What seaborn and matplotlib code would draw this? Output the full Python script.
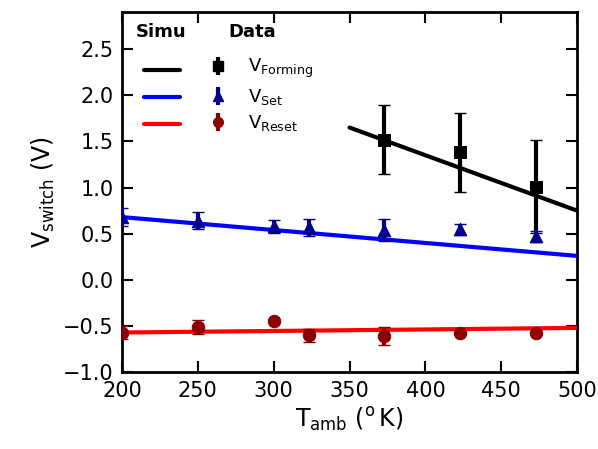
import numpy as np
import pandas as pd
import matplotlib
matplotlib.use("Agg")
import matplotlib.pyplot as plt
import seaborn as sns
from matplotlib.lines import Line2D

sns.set_style("ticks")
plt.rcParams['font.family'] = ['DejaVu Sans']
plt.rcParams['mathtext.default'] = 'regular'
for k in ['text.color', 'axes.labelcolor', 'xtick.color', 'ytick.color', 'axes.edgecolor']:
    plt.rcParams[k] = 'black'

# Simulation lines
simu_form_T = [350, 500]
simu_form_V = [1.65, 0.75]
simu_set_T = [200, 500]
simu_set_V = [0.68, 0.26]
simu_reset_T = [200, 500]
simu_reset_V = [-0.57, -0.52]

# Measured data
form_T = [373, 423, 473]
form_V = [1.52, 1.38, 1.01]
form_err = [0.37, 0.43, 0.50]

set_T = [200, 250, 300, 323, 373, 423, 473]
set_V = [0.68, 0.64, 0.58, 0.57, 0.54, 0.55, 0.47]
set_err = [0.10, 0.09, 0.07, 0.09, 0.12, 0.06, 0.06]

reset_T = [200, 250, 300, 323, 373, 423, 473]
reset_V = [-0.57, -0.51, -0.45, -0.60, -0.61, -0.57, -0.57]
reset_err = [0.07, 0.08, 0.0, 0.07, 0.10, 0.0, 0.0]

y_ticks = [-1.0, -0.5, 0.0, 0.5, 1.0, 1.5, 2.0, 2.5]
x_ticks = [200, 250, 300, 350, 400, 450, 500]

fig = plt.figure(figsize=(5.98, 4.49), dpi=100)
ax = fig.add_axes([0.204, 0.171, 0.761, 0.802])

simu = pd.concat([
    pd.DataFrame({"T": simu_form_T, "V": simu_form_V, "s": "Forming"}),
    pd.DataFrame({"T": simu_set_T, "V": simu_set_V, "s": "Set"}),
    pd.DataFrame({"T": simu_reset_T, "V": simu_reset_V, "s": "Reset"}),
])
palette = {"Forming": "black", "Set": "#0000ff", "Reset": "#ff0000"}
sns.lineplot(data=simu, x="T", y="V", hue="s", palette=palette, lw=3, ax=ax,
             legend=False, zorder=3)

data_specs = [
    (form_T, form_V, form_err, "s", "black", 9),
    (set_T, set_V, set_err, "^", "#00008b", 9),
    (reset_T, reset_V, reset_err, "o", "#8b0000", 9),
]
for T, V, E, m, c, ms in data_specs:
    ax.errorbar(T, V, yerr=E, fmt="none", ecolor=c, elinewidth=3,
                capsize=4, capthick=1, zorder=4)
    sns.scatterplot(x=T, y=V, marker=m, color=c, s=ms**2, edgecolor=c,
                    ax=ax, zorder=5, legend=False)

ax.set_xlim(200, 500)
ax.set_ylim(-1.0, 2.9)
ax.set_xticks(x_ticks)
ax.set_yticks(y_ticks)
ax.set_yticklabels([f"{v:.1f}".replace("-", "\u2212") for v in y_ticks])
ax.tick_params(direction="in", length=8, width=1.5, top=True, right=True,
               labelsize=15, pad=6, colors="black")
for sp in ax.spines.values():
    sp.set_linewidth(2)
    sp.set_color("black")
ax.set_xlabel(r"T$_{amb}$ ($^{o}\,$K)", fontsize=17)
ax.set_ylabel(r"V$_{switch}$ (V)", fontsize=17)

# Legend titles
ax.text(0.03, 0.945, "Simu", transform=ax.transAxes, fontsize=13,
        fontweight="bold", va="center", ha="left")
ax.text(0.233, 0.945, "Data", transform=ax.transAxes, fontsize=13,
        fontweight="bold", va="center", ha="left")

simu_handles = [Line2D([], [], color=c, lw=3) for c in ["black", "#0000ff", "#ff0000"]]
leg1 = ax.legend(simu_handles, ["", "", ""], loc="upper left",
                 bbox_to_anchor=(0.012, 0.907), frameon=False, fontsize=13,
                 handlelength=2.0, labelspacing=0.52)
ax.add_artist(leg1)
data_handles = []
for T, V, E, m, c, ms in data_specs:
    h = ax.errorbar([], [], yerr=[], fmt=m, color=c, ms=7, elinewidth=3,
                    capsize=3, capthick=1)
    data_handles.append(h)
leg2 = ax.legend(data_handles, [r"V$_{Forming}$", r"V$_{Set}$", r"V$_{Reset}$"],
                 loc="upper left", bbox_to_anchor=(0.145, 0.92),
                 frameon=False, fontsize=13,
                 handlelength=1.5, labelspacing=0.36, handletextpad=0.9)

fig.savefig("out.png", dpi=100)
